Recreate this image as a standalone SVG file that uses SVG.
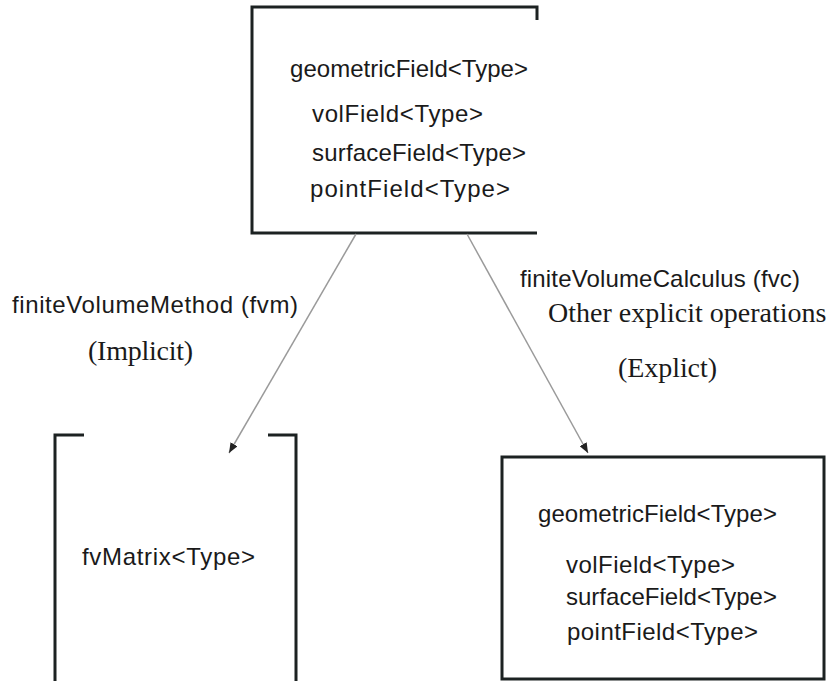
<svg xmlns="http://www.w3.org/2000/svg" width="831" height="681" viewBox="0 0 831 681">
<defs>
<style>
.box{fill:none;stroke:#1c2222;stroke-width:3}
.t{font-family:"Liberation Sans",Arial,sans-serif;font-size:24px;fill:#1a1a1a}
.s{font-family:"Liberation Serif","Times New Roman",serif;font-size:28px;fill:#1a1a1a}
.edge{stroke:#9a9a9a;stroke-width:1.5;fill:none;marker-end:url(#ah)}
</style>
<marker id="ah" viewBox="0 0 10 8" refX="10" refY="4" markerWidth="10" markerHeight="8" markerUnits="userSpaceOnUse" orient="auto">
<path d="M0,0 L10,4 L0,8 Z" fill="#222"/>
</marker>
</defs>
<rect width="831" height="681" fill="#fff"/>
<g id="geometricField-top">
<path class="box" d="M537,20 V7 H252 V233 H537"/>
<text class="t" x="290" y="77" textLength="238">geometricField&lt;Type&gt;</text>
<text class="t" x="312" y="122" textLength="171">volField&lt;Type&gt;</text>
<text class="t" x="312" y="161" textLength="214">surfaceField&lt;Type&gt;</text>
<text class="t" x="310" y="197" textLength="200">pointField&lt;Type&gt;</text>
</g>
<g id="fvMatrix">
<path class="box" d="M84,435 H55 V681 M268,435 H296 V681"/>
<text class="t" x="82" y="565" textLength="173">fvMatrix&lt;Type&gt;</text>
</g>
<g id="geometricField-bottom">
<rect class="box" x="502" y="457" width="322" height="222"/>
<text class="t" x="538" y="522" textLength="239">geometricField&lt;Type&gt;</text>
<text class="t" x="566" y="573" textLength="169">volField&lt;Type&gt;</text>
<text class="t" x="566" y="605" textLength="211">surfaceField&lt;Type&gt;</text>
<text class="t" x="567" y="640" textLength="191">pointField&lt;Type&gt;</text>
</g>
<g id="connectors">
<path class="edge" d="M356,234 L229,453"/>
<path class="edge" d="M467,234 L588,453"/>
<text class="t" x="12" y="313" textLength="286">finiteVolumeMethod (fvm)</text>
<text class="s" x="88" y="360" textLength="105">(Implicit)</text>
<text class="t" x="520" y="287" textLength="280">finiteVolumeCalculus (fvc)</text>
<text class="s" x="548" y="322">Other explicit operations</text>
<text class="s" x="618" y="377" textLength="99">(Explict)</text>
</g>
</svg>
